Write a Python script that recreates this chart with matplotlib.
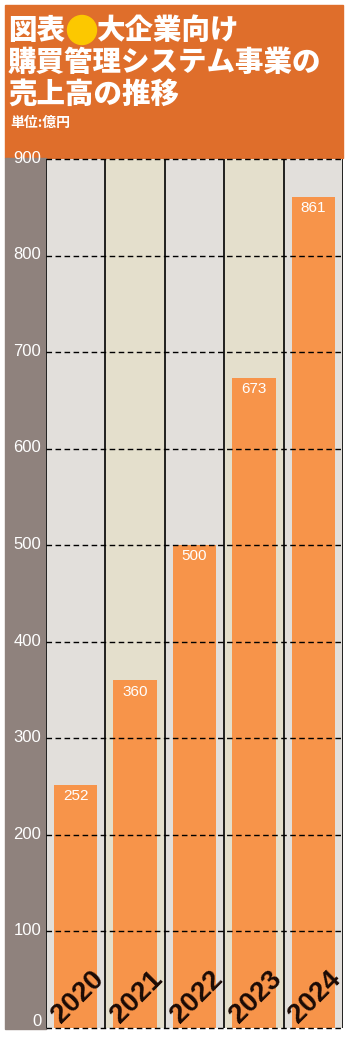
import matplotlib
matplotlib.use("Agg")
import matplotlib.pyplot as plt
from matplotlib.patches import Rectangle, Ellipse

plt.rcParams['font.family'] = ['Noto Sans CJK JP', 'DejaVu Sans']

years = ["2020", "2021", "2022", "2023", "2024"]
sales = [252, 360, 500, 673, 861]
yticks = [0, 100, 200, 300, 400, 500, 600, 700, 800, 900]

title_lines = ["大企業向け", "購買管理システム事業の", "売上高の推移"]
title_prefix = "図表"
unit_label = "単位:億円"

W, H = 354, 1038
fig = plt.figure(figsize=(W / 100, H / 100), dpi=100)
fig.patch.set_facecolor("white")

def fx(px):
    return px / W

def fy(py):
    return 1 - py / H

# header band (zorder below the axes so axes texts stay on top)
fig.patches.append(Rectangle((fx(5), fy(158)), fx(343) - fx(5), fy(5) - fy(158),
                             transform=fig.transFigure, color="#df6e2b", zorder=-2))
# grey strip behind the y labels
fig.patches.append(Rectangle((fx(5), fy(1029)), fx(46) - fx(5), fy(158) - fy(1029),
                             transform=fig.transFigure, color="#8f827d", zorder=-2))

# title
tkw = dict(color="white", fontsize=20.5, fontweight="heavy", va="center", ha="left")
fig.text(fx(8), fy(30), title_prefix, **tkw)
fig.patches.append(Ellipse((fx(82), fy(30)), fx(29), fy(0) - fy(29),
                           transform=fig.transFigure, color="#fcc800", zorder=2))
fig.text(fx(96), fy(30), title_lines[0], **tkw)
fig.text(fx(8), fy(62), title_lines[1], **tkw)
fig.text(fx(8), fy(94), title_lines[2], **tkw)
fig.text(fx(10), fy(123), unit_label, color="white", fontsize=10, fontweight="bold",
         va="center", ha="left")

ax = fig.add_axes([fx(46), fy(1028), fx(343) - fx(46), fy(159) - fy(1028)])
n = len(years)
ax.set_xlim(-0.5, n - 0.5)
ax.set_ylim(0, 900)

col_colors = ["#e2dfdb", "#e4dfcc"]
for i in range(n):
    ax.axvspan(i - 0.5, i + 0.5, color=col_colors[i % 2], zorder=0, lw=0)
    ax.axvline(i - 0.5, color="black", lw=1.2, zorder=3)
ax.axvline(n - 0.5, color="black", lw=1.2, zorder=3)

ax.bar(range(n), sales, width=0.73, color="#f7944a", zorder=1)

for y in yticks:
    ax.axhline(y, color="black", lw=1, ls=(0, (4, 2.5)), zorder=4, clip_on=False)

num_font = ["Liberation Sans", "DejaVu Sans"]
for i, v in enumerate(sales):
    ax.annotate(str(v), (i, v), xytext=(0, -3), textcoords="offset points",
                ha="center", va="top", color="white", fontsize=11,
                family=num_font, zorder=5)
    ax.annotate(years[i], (i, 0), xytext=(1.5, 22), textcoords="offset points",
                ha="center", va="center", rotation=45, rotation_mode="anchor",
                color="#1a0a05", fontsize=20, fontweight="heavy",
                family=["Liberation Sans Narrow", "Liberation Sans", "DejaVu Sans"], zorder=5)

for y in yticks:
    dy = 4.5 if y == 0 else 0.5
    ax.annotate(str(y), (0, y), xycoords=("axes fraction", "data"), xytext=(-3.5, dy),
                textcoords="offset points", ha="right", va="center", color="white",
                fontsize=12, family=num_font, annotation_clip=False, clip_on=False)

ax.set_xticks([])
ax.set_yticks([])
for s in ax.spines.values():
    s.set_visible(False)

fig.savefig("out.png", dpi=100)
